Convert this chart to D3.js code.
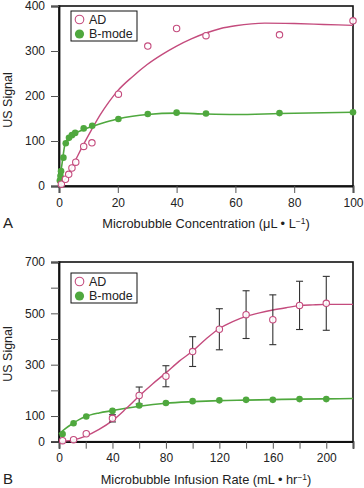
<!DOCTYPE html>
<html><head><meta charset="utf-8">
<script src="https://cdn.jsdelivr.net/npm/d3@7"></script>
<style>
html,body{margin:0;padding:0;background:#fff;}
svg{display:block;font-family:"Liberation Sans",Arial,Helvetica,sans-serif;}
</style></head>
<body>
<svg id="c" width="364" height="488"></svg>
<script>
// ---------- Panel A data ----------
const aAD_x = [0.8, 2.2, 3.3, 4.4, 5.7, 8.4, 11.2, 20.2, 30.2, 40, 50, 75, 100];
const aAD_y = [4, 15, 26, 40, 53, 88, 96, 204, 311, 350, 334, 336, 367];
const aB_x = [0.3, 0.5, 0.7, 1.5, 2.3, 3.4, 4.4, 5.5, 8.4, 11.3, 20.2, 30.2, 40, 50, 75, 100];
const aB_y = [12, 22, 33, 63, 95, 107, 113, 118, 128, 134, 149, 160, 163, 161, 162, 164];
const aADfit_x = [0.3, 2, 5, 8, 11, 14, 17, 20, 25, 30, 35, 40, 45, 50, 55, 60, 70, 80, 90, 100];
const aADfit_y = [0, 14, 50, 88, 124, 158, 187, 212, 243, 270, 292, 311, 327, 340, 350, 356, 362, 361, 359, 357];
const aBfit_x = [0, 0.5, 1, 1.5, 2, 3, 4, 6, 9, 12, 16, 20, 25, 30, 40, 50, 60, 75, 100];
const aBfit_y = [10, 28, 48, 72, 92, 104, 111, 119, 127, 134, 142, 149, 155, 159, 162, 160, 159, 161, 164];
const aXTicks = [0, 20, 40, 60, 80, 100];
const aYTicks = [0, 100, 200, 300, 400];

// ---------- Panel B data ----------
const bAD_x = [2.7, 10.9, 20.4, 40, 60, 80, 100, 120, 140, 160, 180, 200];
const bAD_y = [4, 8, 31, 91, 180, 255, 351, 438, 495, 475, 531, 539];
const bAD_err = [0, 0, 0, 14, 33, 41, 58, 80, 93, 97, 94, 105];
const bB_x = [2.7, 10.9, 20.4, 40, 60, 80, 100, 120, 140, 160, 180, 200];
const bB_y = [30, 72, 98, 120, 141, 151, 158, 161, 163, 163, 166, 166];
const bADfit_x = [0, 10, 20, 30, 40, 50, 60, 70, 80, 90, 100, 110, 120, 130, 140, 150, 160, 170, 180, 190, 200, 210, 220];
const bADfit_y = [0, 6, 22, 48, 82, 128, 178, 225, 268, 314, 353, 400, 441, 468, 488, 502, 513, 522, 530, 533, 535, 535, 535];
const bBfit_x = [0, 5, 10, 15, 20, 30, 40, 50, 60, 80, 100, 120, 140, 160, 180, 200, 220];
const bBfit_y = [30, 52, 70, 86, 98, 112, 121, 130, 138, 150, 156, 160, 162, 164, 166, 167, 168];
const bXTicks = [0, 20, 40, 60, 80, 100, 120, 140, 160, 180, 200, 220];
const bXLabels = [0, 40, 80, 120, 160, 200];
const bYTicks = [0, 100, 200, 300, 400, 500, 600, 700];
const bYLabels = [0, 100, 300, 500, 700];

const seriesNames = ["AD", "B-mode"];
const PINK = "#c44b7d", GREEN = "#4fa83e";

const svg = d3.select("#c");

function panel(opt) {
  const g = svg.append("g");
  const x = d3.scaleLinear().domain(opt.xDomain).range([59, 353]);
  const y = d3.scaleLinear().domain(opt.yDomain).range([opt.bottom, opt.top]);
  const zip = (xs, ys) => xs.map((v, i) => [v, ys[i]]);
  const line = d3.line().x(d => x(d[0])).y(d => y(d[1])).curve(d3.curveMonotoneX);

  g.append("rect").attr("x", 59).attr("y", opt.top).attr("width", 294).attr("height", opt.bottom - opt.top)
    .attr("fill", "none").attr("stroke", "#111").attr("stroke-width", 1.6);

  const xa = g.append("g").attr("transform", `translate(0,${opt.bottom})`)
    .call(d3.axisBottom(x).tickValues(opt.xTicks).tickSize(7).tickPadding(5)
      .tickFormat(d => opt.xLabels.includes(d) ? d : ""));
  xa.select(".domain").attr("stroke", "#111").attr("stroke-width", 1.8);
  xa.selectAll(".tick line").attr("stroke", "#555");
  xa.selectAll("text").attr("font-size", 12).attr("fill", "#222").attr("font-family", "Liberation Sans, Arial, sans-serif");

  const ya = g.append("g").attr("transform", `translate(59,0)`)
    .call(d3.axisLeft(y).tickValues(opt.yTicks).tickSize(8).tickPadding(6)
      .tickFormat(d => opt.yLabels.includes(d) ? d : ""));
  ya.select(".domain").attr("stroke", "#111").attr("stroke-width", 1.8);
  ya.selectAll(".tick line").attr("stroke", "#555");
  ya.selectAll("text").attr("font-size", 12).attr("fill", "#222").attr("font-family", "Liberation Sans, Arial, sans-serif");

  g.append("path").attr("d", line(zip(opt.bFitX, opt.bFitY))).attr("fill", "none")
    .attr("stroke", GREEN).attr("stroke-width", 1.6);
  g.append("path").attr("d", line(zip(opt.adFitX, opt.adFitY))).attr("fill", "none")
    .attr("stroke", PINK).attr("stroke-width", 1.4);

  if (opt.adErr) {
    const eb = g.append("g").attr("stroke", "#333").attr("stroke-width", 1.1);
    opt.adX.forEach((v, i) => {
      const e = opt.adErr[i];
      if (!e) return;
      const cx = x(v), y1 = y(opt.adY[i] + e), y2 = y(opt.adY[i] - e);
      eb.append("line").attr("x1", cx).attr("x2", cx).attr("y1", y1).attr("y2", y2);
      eb.append("line").attr("x1", cx - 3.5).attr("x2", cx + 3.5).attr("y1", y1).attr("y2", y1);
      eb.append("line").attr("x1", cx - 3.5).attr("x2", cx + 3.5).attr("y1", y2).attr("y2", y2);
    });
  }

  g.append("g").selectAll("circle").data(zip(opt.bX, opt.bY)).join("circle")
    .attr("cx", d => x(d[0])).attr("cy", d => y(d[1])).attr("r", 3.3).attr("fill", GREEN);
  g.append("g").selectAll("circle").data(zip(opt.adX, opt.adY)).join("circle")
    .attr("cx", d => x(d[0])).attr("cy", d => y(d[1])).attr("r", 3.2)
    .attr("fill", "#fff").attr("fill-opacity", 0.9).attr("stroke", PINK).attr("stroke-width", 1.1);

  const lg = g.append("g");
  lg.append("rect").attr("x", 71).attr("y", opt.legTop).attr("width", 66).attr("height", 30)
    .attr("fill", "#fff").attr("stroke", "#111").attr("stroke-width", 1);
  lg.append("circle").attr("cx", 79.5).attr("cy", opt.legTop + 8.5).attr("r", 4.3)
    .attr("fill", "#fff").attr("stroke", PINK).attr("stroke-width", 1.1);
  lg.append("circle").attr("cx", 79.5).attr("cy", opt.legTop + 23).attr("r", 4.6).attr("fill", GREEN);
  lg.append("text").attr("x", 89).attr("y", opt.legTop + 12.8).attr("font-size", 12.5).attr("fill", "#222").text(seriesNames[0]);
  lg.append("text").attr("x", 89).attr("y", opt.legTop + 27.3).attr("font-size", 12.5).attr("fill", "#222").text(seriesNames[1]);

  g.append("text").attr("transform", `translate(12,${opt.yTitleY}) rotate(-90)`)
    .attr("text-anchor", "middle").attr("font-size", 12.5).attr("fill", "#222").text("US Signal");

  const t = g.append("text").attr("x", 206).attr("y", opt.xTitleY).attr("text-anchor", "middle")
    .attr("font-size", 12.8).attr("fill", "#222");
  t.append("tspan").text(opt.xTitle);
  t.append("tspan").attr("dy", -4.5).attr("font-size", 8.5).text("−1");
  t.append("tspan").attr("dy", 4.5).text(")");

  g.append("text").attr("x", 3).attr("y", opt.xTitleY).attr("font-size", 15).attr("fill", "#222").text(opt.letter);
}

panel({
  xDomain: [0, 100], yDomain: [0, 400], top: 6, bottom: 186,
  xTicks: aXTicks, xLabels: aXTicks, yTicks: aYTicks, yLabels: aYTicks,
  adX: aAD_x, adY: aAD_y, bX: aB_x, bY: aB_y,
  adFitX: aADfit_x, adFitY: aADfit_y, bFitX: aBfit_x, bFitY: aBfit_y,
  legTop: 11, yTitleY: 100, xTitleY: 228,
  xTitle: "Microbubble Concentration (μL • L", letter: "A"
});

panel({
  xDomain: [0, 220], yDomain: [0, 700], top: 262, bottom: 441.7,
  xTicks: bXTicks, xLabels: bXLabels, yTicks: bYTicks, yLabels: bYLabels,
  adX: bAD_x, adY: bAD_y, adErr: bAD_err, bX: bB_x, bY: bB_y,
  adFitX: bADfit_x, adFitY: bADfit_y, bFitX: bBfit_x, bFitY: bBfit_y,
  legTop: 273, yTitleY: 354, xTitleY: 484,
  xTitle: "Microbubble Infusion Rate (mL • hr", letter: "B"
});
</script>
</body></html>
